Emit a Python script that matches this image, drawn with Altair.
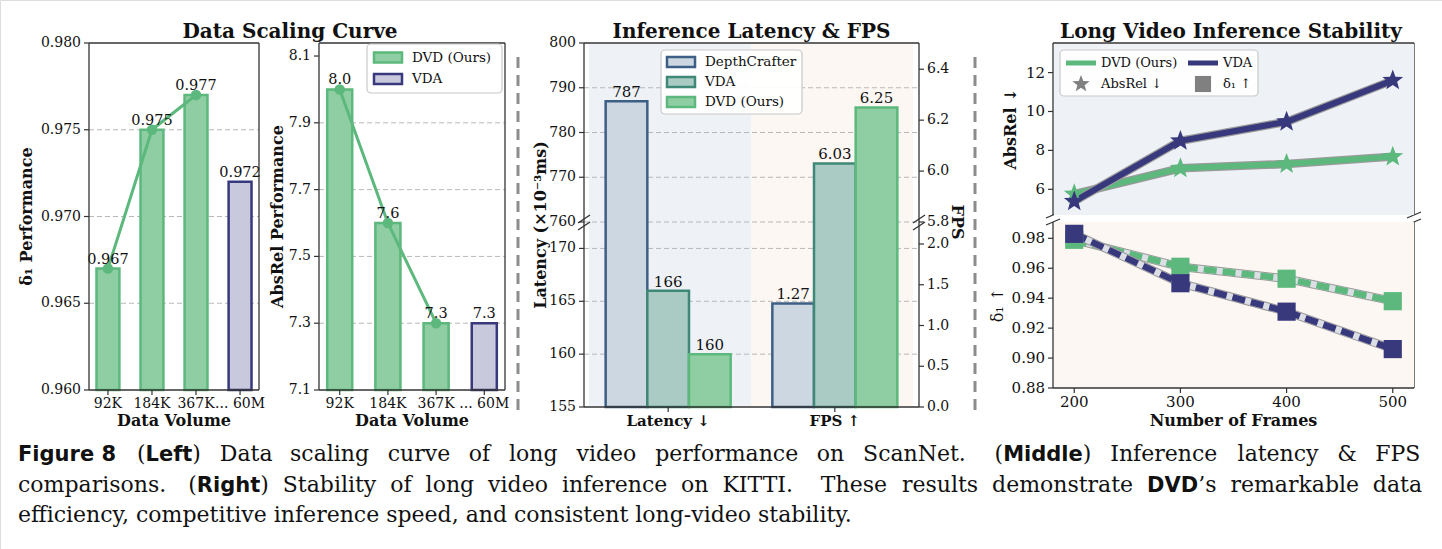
import math

import altair as alt
import pandas as pd

# ---------------- data ----------------
volumes = ["92K", "184K", "367K", "... 60M"]
volume_models = ["DVD (Ours)", "DVD (Ours)", "DVD (Ours)", "VDA"]
delta1_perf = [0.967, 0.975, 0.977, 0.972]
absrel_perf = [8.0, 7.6, 7.3, 7.3]

speed_groups = ["Latency ↓", "FPS ↑"]
speed_models = ["DepthCrafter", "VDA", "DVD (Ours)"]
latency_ms = [787, 166, 160]
fps = [1.27, 6.03, 6.25]

frames = [200, 300, 400, 500]
dvd_absrel = [5.75, 7.08, 7.30, 7.68]
vda_absrel = [5.38, 8.49, 9.47, 11.60]
dvd_delta1 = [0.979, 0.961, 0.953, 0.938]
vda_delta1 = [0.983, 0.950, 0.931, 0.906]

# ---------------- style ----------------
SERIF = "DejaVu Serif"
SANS = "DejaVu Sans"
GREEN = "#5cb87c"
GREEN_FILL = "#8fcea2"
NAVY = "#38387c"
NAVY_FILL = "#c9c9dd"
DC_BLUE = "#3e5f85"
DC_FILL = "#cdd7e2"
TEAL = "#3f8878"
TEAL_FILL = "#a9cbc3"
GRID = "#b8b8b8"
BG_BLUE = "#eef2f7"
BG_CREAM = "#fcf7f2"
INK = "#111111"
SPINE = "#333333"

# five-pointed star outline in the unit square used by symbol marks
_star_pts = []
for i in range(10):
    r = 1.0 if i % 2 == 0 else 0.42
    a = -math.pi / 2 + i * math.pi / 5
    _star_pts.append(f"{r * math.cos(a):.3f},{r * math.sin(a):.3f}")
STAR = "M" + "L".join(_star_pts) + "Z"

# ---------------- page geometry (pixels) ----------------
PAGE_W, PAGE_H = 1442, 549
TOP = 43
X1, X2, X3, X4 = (89, 259), (319, 505), (584, 919), (1053, 1414)
BOT12, BOT3, BOT4 = 390, 407, 388
BRK3 = 222
P4_SPLIT = (215, 222)


# ---------------- hand-built axis pieces ----------------
def y_ticks(ticks, ys, x_edge, fmt, size=14, side="left"):
    df = pd.DataFrame({"tick": ticks})
    y = alt.Y("tick:Q", scale=ys, axis=None)
    if side == "left":
        tick = alt.Chart(df).mark_rule(color=SPINE, strokeWidth=1.2).encode(
            y=y, x=alt.value(x_edge - 5), x2=alt.value(x_edge))
        lab = alt.Chart(df).mark_text(align="right", baseline="middle", font=SERIF,
                                      fontSize=size, color=INK).encode(
            y=y, x=alt.value(x_edge - 8), text=alt.Text("tick:Q", format=fmt))
    else:
        tick = alt.Chart(df).mark_rule(color=SPINE, strokeWidth=1.2).encode(
            y=y, x=alt.value(x_edge), x2=alt.value(x_edge + 5))
        lab = alt.Chart(df).mark_text(align="left", baseline="middle", font=SERIF,
                                      fontSize=size, color=INK).encode(
            y=y, x=alt.value(x_edge + 8), text=alt.Text("tick:Q", format=fmt))
    return [tick, lab]


def x_ticks(df, x, text_field, y_edge, size=14, weight="normal"):
    tick = alt.Chart(df).mark_rule(color=SPINE, strokeWidth=1.2).encode(
        x=x, y=alt.value(y_edge), y2=alt.value(y_edge + 5))
    lab = alt.Chart(df).mark_text(align="center", baseline="top", font=SERIF,
                                  fontSize=size, fontWeight=weight, color=INK).encode(
        x=x, y=alt.value(y_edge + 7), text=f"{text_field}:N")
    return [tick, lab]


# ---------------- left: data scaling curve ----------------
vol_df = pd.DataFrame({"volume": volumes, "model": volume_models,
                       "delta1": delta1_perf, "absrel": absrel_perf})
vol_fill = alt.Scale(domain=["DVD (Ours)", "VDA"], range=[GREEN_FILL, NAVY_FILL])
vol_stroke = alt.Scale(domain=["DVD (Ours)", "VDA"], range=[GREEN, NAVY])


def scaling_panel(field, domain, ticks, fmt, xr):
    xs = alt.Scale(domain=volumes, range=list(xr), paddingInner=0.48, paddingOuter=0.17)
    ys = alt.Scale(domain=domain, range=[BOT12, TOP], zero=False, nice=False)
    x = alt.X("volume:N", sort=volumes, scale=xs, axis=None)
    y = alt.Y(f"{field}:Q", scale=ys, axis=None)
    grid = alt.Chart(pd.DataFrame({"tick": ticks[1:-1]})).mark_rule(
        color=GRID, strokeDash=[5, 3], strokeWidth=1).encode(
        y=alt.Y("tick:Q", scale=ys, axis=None), x=alt.value(xr[0]), x2=alt.value(xr[1]))
    bars = alt.Chart(vol_df).mark_bar(strokeWidth=2.5).encode(
        x=x, y=y, y2=alt.datum(domain[0]),
        fill=alt.Fill("model:N", scale=vol_fill, legend=None),
        stroke=alt.Stroke("model:N", scale=vol_stroke, legend=None))
    dvd = alt.Chart(vol_df).transform_filter(alt.datum.model == "DVD (Ours)")
    curve = dvd.mark_line(color=GREEN, strokeWidth=3).encode(x=x, y=y)
    dots = dvd.mark_point(filled=True, size=110, color=GREEN, opacity=1).encode(x=x, y=y)
    labels = alt.Chart(vol_df).mark_text(dy=-9, font=SERIF, fontSize=14.5, color=INK).encode(
        x=x, y=y, text=alt.Text(f"{field}:Q", format=fmt))
    return alt.layer(grid, bars, curve, dots, labels,
                     *y_ticks(ticks, ys, xr[0], fmt),
                     *x_ticks(vol_df, x, "volume", BOT12))


p1 = scaling_panel("delta1", [0.960, 0.980], [0.960, 0.965, 0.970, 0.975, 0.980], ".3f", X1)
p2 = scaling_panel("absrel", [7.1, 8.139], [7.1, 7.3, 7.5, 7.7, 7.9, 8.1], ".1f", X2)

# ---------------- middle: inference latency & fps ----------------
# one band slot per bar, with an empty slot between the two groups
slots = []
for g in speed_groups:
    if slots:
        slots.append("|")
    slots += [f"{g}|{m}" for m in speed_models]
lat_df = pd.DataFrame({"slot": [f"{speed_groups[0]}|{m}" for m in speed_models],
                       "model": speed_models, "value": latency_ms})
fps_df = pd.DataFrame({"slot": [f"{speed_groups[1]}|{m}" for m in speed_models],
                       "model": speed_models, "value": fps})
group_df = pd.DataFrame({"slot": [f"{g}|{speed_models[1]}" for g in speed_groups],
                         "label": speed_groups})
sp_fill = alt.Scale(domain=speed_models, range=[DC_FILL, TEAL_FILL, GREEN_FILL])
sp_stroke = alt.Scale(domain=speed_models, range=[DC_BLUE, TEAL, GREEN])
BAR3 = 41.67
S_OUT = ((X3[1] - X3[0]) - len(slots) * BAR3) / (2 * BAR3)
x3 = alt.X("slot:N", sort=slots, axis=None,
           scale=alt.Scale(domain=slots, range=list(X3), paddingInner=0, paddingOuter=S_OUT))
RANGE3 = [BOT3, BRK3, BRK3, TOP]
lat_ys = alt.Scale(domain=[155, 172.5, 760, 800], range=RANGE3, zero=False, nice=False)
fps_ys = alt.Scale(domain=[0, 2.27, 5.8, 6.503], range=RANGE3, zero=False, nice=False)
y_lat = alt.Y("value:Q", scale=lat_ys, axis=None)
y_fps = alt.Y("value:Q", scale=fps_ys, axis=None)


def speed_layer(df, y, fmt, floor):
    bars = alt.Chart(df).mark_bar(strokeWidth=2.5).encode(
        x=x3, y=y, y2=alt.datum(floor),
        fill=alt.Fill("model:N", scale=sp_fill, legend=None),
        stroke=alt.Stroke("model:N", scale=sp_stroke, legend=None))
    text = alt.Chart(df).mark_text(dy=-9, font=SERIF, fontSize=15, color=INK).encode(
        x=x3, y=y, text=alt.Text("value:Q", format=fmt))
    return [bars, text]


one = alt.Chart(pd.DataFrame({"k": [0]}))
mid3 = (X3[0] + X3[1]) / 2
bg3 = alt.layer(
    one.mark_rect(color=BG_BLUE).encode(x=alt.value(X3[0] + 5), x2=alt.value(mid3),
                                         y=alt.value(TOP + 1), y2=alt.value(BOT3 - 1)),
    one.mark_rect(color=BG_CREAM).encode(x=alt.value(mid3), x2=alt.value(X3[1] - 6),
                                          y=alt.value(TOP + 1), y2=alt.value(BOT3 - 1)),
)
grid3 = alt.Chart(pd.DataFrame({"tick": [160, 165, 170, 760, 770, 780, 790]})).mark_rule(
    color=GRID, strokeDash=[5, 3], strokeWidth=1).encode(
    y=alt.Y("tick:Q", scale=lat_ys, axis=None), x=alt.value(X3[0]), x2=alt.value(X3[1]))

lat_layer = alt.layer(
    grid3, *speed_layer(lat_df, y_lat, "d", 155),
    *y_ticks([155, 160, 165, 170, 760, 770, 780, 790, 800], lat_ys, X3[0], "d"))
fps_layer = alt.layer(
    *speed_layer(fps_df, y_fps, ".2f", 0),
    *y_ticks([0, 0.5, 1.0, 1.5, 2.0, 5.8, 6.0, 6.2, 6.4], fps_ys, X3[1], ".1f", side="right"))
p3 = alt.layer(
    bg3, lat_layer, fps_layer, *x_ticks(group_df, x3, "label", BOT3, size=15, weight="bold"),
).resolve_scale(y="independent")

# ---------------- right: long video inference stability ----------------
rows = []
for i, f in enumerate(frames):
    rows.append({"frames": f, "model": "DVD (Ours)", "absrel": dvd_absrel[i], "delta1": dvd_delta1[i]})
    rows.append({"frames": f, "model": "VDA", "absrel": vda_absrel[i], "delta1": vda_delta1[i]})
long_df = pd.DataFrame(rows)
series_colors = {"DVD (Ours)": GREEN, "VDA": NAVY}

x4 = alt.X("frames:Q", axis=None,
           scale=alt.Scale(domain=[180, 520], range=list(X4), nice=False, zero=False))
abs_ys = alt.Scale(domain=[4.68, 13.52], range=[P4_SPLIT[0], TOP], nice=False, zero=False)
d1_ys = alt.Scale(domain=[0.88, 0.9909], range=[BOT4, P4_SPLIT[1]], nice=False, zero=False)
y_abs = alt.Y("absrel:Q", scale=abs_ys, axis=None)
y_d1 = alt.Y("delta1:Q", scale=d1_ys, axis=None)

abs_lines, abs_marks, d1_lines, d1_marks = [], [], [], []
for model, col in series_colors.items():
    s = alt.Chart(long_df).transform_filter(alt.datum.model == model)
    abs_lines += [
        s.mark_line(strokeWidth=8.5, color="#9a9a9a").encode(x=x4, y=y_abs),
        s.mark_line(strokeWidth=6, color=col).encode(x=x4, y=y_abs),
    ]
    abs_marks.append(s.mark_point(shape=STAR, filled=True, size=480, color=col,
                                  opacity=1).encode(x=x4, y=y_abs))
    d1_lines += [
        s.mark_line(strokeWidth=8.5, color="#9a9a9a").encode(x=x4, y=y_d1),
        s.mark_line(strokeWidth=6.5, color="#dcdee6").encode(x=x4, y=y_d1),
        s.mark_line(strokeWidth=6.5, strokeDash=[13, 6], color=col).encode(x=x4, y=y_d1),
    ]
    d1_marks.append(s.mark_point(shape="square", filled=True, size=330, color=col,
                                 opacity=1).encode(x=x4, y=y_d1))
abs_layer = alt.layer(*abs_lines, *abs_marks,
                      *y_ticks([6, 8, 10, 12], abs_ys, X4[0], "d", size=15))
d1_layer = alt.layer(*d1_lines, *d1_marks,
                     *y_ticks([0.88, 0.90, 0.92, 0.94, 0.96, 0.98], d1_ys, X4[0], ".2f", size=15))

bg4 = alt.layer(
    one.mark_rect(color=BG_BLUE).encode(x=alt.value(X4[0] + 1), x2=alt.value(X4[1]),
                                         y=alt.value(TOP + 1), y2=alt.value(P4_SPLIT[0])),
    one.mark_rect(color=BG_CREAM).encode(x=alt.value(X4[0] + 1), x2=alt.value(X4[1]),
                                          y=alt.value(P4_SPLIT[1]), y2=alt.value(BOT4 - 1)),
)
p4 = alt.layer(
    bg4, abs_layer, d1_layer,
    *x_ticks(pd.DataFrame({"frames": frames, "flabel": [str(f) for f in frames]}),
             x4, "flabel", BOT4, size=15),
).resolve_scale(y="independent")

# ---------------- spines, separators, titles ----------------
segments = [
    (X1[0], X1[1], TOP, TOP), (X1[1], X1[1], TOP, BOT12),
    (X1[0], X1[0], TOP, BOT12), (X1[0], X1[1], BOT12, BOT12),
    (X2[0], X2[1], TOP, TOP), (X2[1], X2[1], TOP, BOT12),
    (X2[0], X2[0], TOP, BOT12), (X2[0], X2[1], BOT12, BOT12),
    (X3[0], X3[1], TOP, TOP), (X3[0], X3[0], TOP, BOT3), (X3[1], X3[1], TOP, BOT3),
    (X3[0], X3[1], BOT3, BOT3),
    (X4[0], X4[1], TOP, TOP), (X4[1], X4[1], TOP, P4_SPLIT[0]),
    (X4[1], X4[1], P4_SPLIT[1], BOT4), (X4[0], X4[0], TOP, P4_SPLIT[0]),
    (X4[0], X4[0], P4_SPLIT[1], BOT4), (X4[0], X4[1], BOT4, BOT4),
    # axis break marks
    (X3[0] - 6, X3[0] + 6, BRK3 + 1, BRK3 - 7), (X3[0] - 6, X3[0] + 6, BRK3 + 8, BRK3),
    (X3[1] - 6, X3[1] + 6, BRK3 + 1, BRK3 - 7), (X3[1] - 6, X3[1] + 6, BRK3 + 8, BRK3),
    (X4[0] - 7, X4[0] + 7, P4_SPLIT[0] + 3, P4_SPLIT[0] - 3),
    (X4[0] - 7, X4[0] + 7, P4_SPLIT[1] + 3, P4_SPLIT[1] - 3),
    (X4[1] - 7, X4[1] + 7, P4_SPLIT[0] + 3, P4_SPLIT[0] - 3),
    (X4[1] - 7, X4[1] + 7, P4_SPLIT[1] + 3, P4_SPLIT[1] - 3),
]
seg_df = pd.DataFrame(segments, columns=["sx", "sx2", "sy", "sy2"])
frame = alt.Chart(seg_df).mark_rule(color=SPINE, strokeWidth=1.3).encode(
    x=alt.X("sx:Q", scale=None, axis=None), x2="sx2:Q",
    y=alt.Y("sy:Q", scale=None, axis=None), y2="sy2:Q")

separators = alt.Chart(pd.DataFrame({"sx": [518, 975]})).mark_rule(
    color="#8c8c8c", strokeWidth=3, strokeDash=[11, 7]).encode(
    x=alt.X("sx:Q", scale=None, axis=None), y=alt.value(57), y2=alt.value(415))

title_df = pd.DataFrame({
    "text": ["Data Scaling Curve", "Inference Latency & FPS", "Long Video Inference Stability"],
    "tx": [290, (X3[0] + X3[1]) / 2, 1231],
})
titles = alt.Chart(title_df).mark_text(font=SERIF, fontSize=20, fontWeight="bold",
                                       color=INK, baseline="alphabetic").encode(
    x=alt.X("tx:Q", scale=None, axis=None), y=alt.value(38), text="text:N")

# axis titles: (text, x, y, angle, bold)
axis_title_rows = [
    ("δ₁ Performance", 27, (TOP + BOT12) / 2, 270, True),
    ("AbsRel Performance", 278, (TOP + BOT12) / 2, 270, True),
    ("Latency (×10⁻³ms)", 541, 225, 270, True),
    ("FPS", 957, 222, 90, True),
    ("AbsRel ↓", 1011, (TOP + P4_SPLIT[0]) / 2, 270, True),
    ("δ₁ ↑", 998, (P4_SPLIT[1] + BOT4) / 2, 270, False),
    ("Data Volume", (X1[0] + X1[1]) / 2, 421, 0, True),
    ("Data Volume", (X2[0] + X2[1]) / 2, 421, 0, True),
    ("Number of Frames", (X4[0] + X4[1]) / 2, 421, 0, True),
]
at_df = pd.DataFrame(axis_title_rows, columns=["text", "tx", "ty", "ang", "bold"])
at_enc = dict(x=alt.X("tx:Q", scale=None, axis=None), y=alt.Y("ty:Q", scale=None, axis=None),
              angle=alt.Angle("ang:Q", scale=None), text="text:N")
axis_titles = alt.layer(
    alt.Chart(at_df).transform_filter(alt.datum.bold).mark_text(
        font=SERIF, fontSize=16, fontWeight="bold", color=INK, align="center",
        baseline="middle").encode(**at_enc),
    alt.Chart(at_df).transform_filter(~alt.datum.bold).mark_text(
        font=SERIF, fontSize=16, color=INK, align="center",
        baseline="middle").encode(**at_enc),
)

# ---------------- legends ----------------
box_df = pd.DataFrame([(367, 502, 44, 93), (661, 802, 50, 114), (1060, 1258, 50, 96)],
                      columns=["bx", "bx2", "by", "by2"])
legend_boxes = alt.Chart(box_df).mark_rect(fill="white", fillOpacity=0.92, stroke="#c8c8c8",
                                           strokeWidth=1.2, cornerRadius=4).encode(
    x=alt.X("bx:Q", scale=None, axis=None), x2="bx2:Q",
    y=alt.Y("by:Q", scale=None, axis=None), y2="by2:Q")

swatch_rows = []
for i, (m, f, s) in enumerate([("DVD (Ours)", GREEN_FILL, GREEN), ("VDA", NAVY_FILL, NAVY)]):
    swatch_rows.append({"label": m, "lx": 374, "ly": 57.5 + 21.5 * i, "fill": f, "stroke": s})
for i, m in enumerate(speed_models):
    swatch_rows.append({"label": m, "lx": 667, "ly": 62 + 20 * i,
                        "fill": [DC_FILL, TEAL_FILL, GREEN_FILL][i],
                        "stroke": [DC_BLUE, TEAL, GREEN][i]})
sw_df = pd.DataFrame(swatch_rows)
sw_df["lx2"] = sw_df["lx"] + 28
sw_df["ly1"] = sw_df["ly"] - 5
sw_df["ly2"] = sw_df["ly"] + 5
sw_df["tx"] = sw_df["lx"] + 38
swatches = alt.Chart(sw_df).mark_rect(strokeWidth=2.5).encode(
    x=alt.X("lx:Q", scale=None, axis=None), x2="lx2:Q",
    y=alt.Y("ly1:Q", scale=None, axis=None), y2="ly2:Q",
    fill=alt.Fill("fill:N", scale=None), stroke=alt.Stroke("stroke:N", scale=None))
swatch_text = alt.Chart(sw_df).mark_text(align="left", baseline="middle", font=SERIF,
                                         fontSize=13.5, color=INK).encode(
    x=alt.X("tx:Q", scale=None, axis=None), y=alt.Y("ly:Q", scale=None, axis=None),
    text="label:N")

key_lines = alt.Chart(pd.DataFrame({
    "kx": [1066, 1188], "kx2": [1096, 1218], "ky": [63, 63], "col": [GREEN, NAVY]})).mark_rule(
    strokeWidth=5).encode(
    x=alt.X("kx:Q", scale=None, axis=None), x2="kx2:Q",
    y=alt.Y("ky:Q", scale=None, axis=None), color=alt.Color("col:N", scale=None))
key_star = alt.Chart(pd.DataFrame({"kx": [1081], "ky": [84]})).mark_point(
    shape=STAR, filled=True, size=330, color="#808080", opacity=1).encode(
    x=alt.X("kx:Q", scale=None, axis=None), y=alt.Y("ky:Q", scale=None, axis=None))
key_square = alt.Chart(pd.DataFrame({"kx": [1203], "ky": [84]})).mark_point(
    shape="square", filled=True, size=260, color="#808080", opacity=1).encode(
    x=alt.X("kx:Q", scale=None, axis=None), y=alt.Y("ky:Q", scale=None, axis=None))
key_text = alt.Chart(pd.DataFrame({
    "label": ["DVD (Ours)", "VDA", "AbsRel ↓", "δ₁ ↑"],
    "kx": [1101, 1223, 1101, 1223], "ky": [63, 63, 84, 84]})).mark_text(
    align="left", baseline="middle", font=SERIF, fontSize=13, color=INK).encode(
    x=alt.X("kx:Q", scale=None, axis=None), y=alt.Y("ky:Q", scale=None, axis=None),
    text="label:N")

legends = alt.layer(legend_boxes, swatches, swatch_text, key_lines, key_text,
                    key_square, key_star)

# ---------------- caption ----------------
CAP_SIZE, CAP_BOLD_SIZE = 22, 21
SERIF_EM = {" ": .318, ".": .318, ",": .318, "(": .39, ")": .39, "’": .318, "&": .87,
            "-": .338, "i": .32, "l": .32, "j": .32, "f": .37, "t": .402, "r": .478,
            "s": .513, "c": .55, "v": .565, "y": .565, "x": .565, "k": .6, "a": .596,
            "e": .592, "o": .602, "n": .644, "h": .644, "u": .644, "d": .64, "b": .64,
            "p": .64, "q": .64, "g": .64, "m": .948, "w": .856, "z": .525, "I": .47,
            "T": .712, "K": .775, "S": .685, "N": .82, "F": .71, "P": .733}
SANS_BOLD_EM = {" ": .348, "F": .575, "i": .343, "l": .343, "g": .716, "u": .712,
                "r": .493, "e": .678, "f": .435, "t": .478, "M": .995, "d": .716,
                "h": .712, "D": .83, "V": .774, "L": .637, "R": .77}


def text_width(s, bold):
    table = SANS_BOLD_EM if bold else SERIF_EM
    size = CAP_BOLD_SIZE if bold else CAP_SIZE
    total = 0.0
    for ch in s:
        if ch in table:
            total += table[ch]
        elif ch.isdigit():
            total += .696 if bold else .636
        elif ch.isupper():
            total += .77 if bold else .74
        else:
            total += .68 if bold else .6
    return total * size


def justify(tokens, x0, x1):
    widths = [sum(text_width(t, b) for t, b in segs) for segs, _ in tokens]
    weights = sum(g for _, g in tokens[:-1])
    gap = (x1 - x0 - sum(widths)) / weights
    placed, x = [], x0
    for (segs, g), w in zip(tokens, widths):
        sx = x
        for t, b in segs:
            placed.append((t, b, sx))
            sx += text_width(t, b)
        x += w + g * gap
    return placed


def words(text):
    return [([(w, False)], 1.0) for w in text.split()]


def sentence_end(tokens):
    segs, _ = tokens[-1]
    tokens[-1] = (segs, 1.6)
    return tokens


line1 = ([([("(", False), ("Left", True), (")", False)], 1.0)]
         + sentence_end(words("Data scaling curve of long video performance on ScanNet."))
         + [([("(", False), ("Middle", True), (")", False)], 1.0)]
         + words("Inference latency & FPS"))
line2 = (sentence_end(words("comparisons."))
         + [([("(", False), ("Right", True), (")", False)], 1.0)]
         + words("Stability of long video inference on")
         + sentence_end(words("KITTI."))
         + words("These results demonstrate")
         + [([("DVD", True), ("’s", False)], 1.0)]
         + words("remarkable data"))
CAP_X0, CAP_X1 = 18, 1422
BASELINES = [461, 491.5, 521.5]
cap_rows = [{"text": "Figure 8", "bold": True, "cx": CAP_X0, "cy": BASELINES[0]}]
cap_rows += [{"text": t, "bold": b, "cx": x, "cy": BASELINES[0]}
             for t, b, x in justify(line1, 137, CAP_X1)]
cap_rows += [{"text": t, "bold": b, "cx": x, "cy": BASELINES[1]}
             for t, b, x in justify(line2, CAP_X0, CAP_X1)]
cap_rows.append({"text": "efficiency, competitive inference speed, and consistent "
                         "long-video stability.", "bold": False, "cx": CAP_X0,
                 "cy": BASELINES[2]})
cap_df = pd.DataFrame(cap_rows)
cap_base = alt.Chart(cap_df)
cap_pos = dict(x=alt.X("cx:Q", scale=None, axis=None), y=alt.Y("cy:Q", scale=None, axis=None),
               text="text:N")
caption = alt.layer(
    cap_base.transform_filter(~alt.datum.bold).mark_text(
        align="left", baseline="alphabetic", font=SERIF, fontSize=CAP_SIZE, color=INK
    ).encode(**cap_pos),
    cap_base.transform_filter(alt.datum.bold).mark_text(
        align="left", baseline="alphabetic", font=SANS, fontSize=CAP_BOLD_SIZE,
        fontWeight="bold", color=INK
    ).encode(**cap_pos),
)

# ---------------- assemble ----------------
chart = alt.layer(
    p1, p2, p3, frame, separators, titles, axis_titles, caption, p4, legends,
).resolve_scale(
    x="independent", y="independent", fill="independent", stroke="independent",
    color="independent", shape="independent",
).properties(
    width=PAGE_W, height=PAGE_H, padding=0,
    autosize=alt.AutoSizeParams(type="none"),
).configure_view(stroke=None).configure(background="white")

chart.save("out.html", embed_options={"renderer": "svg", "actions": False})
